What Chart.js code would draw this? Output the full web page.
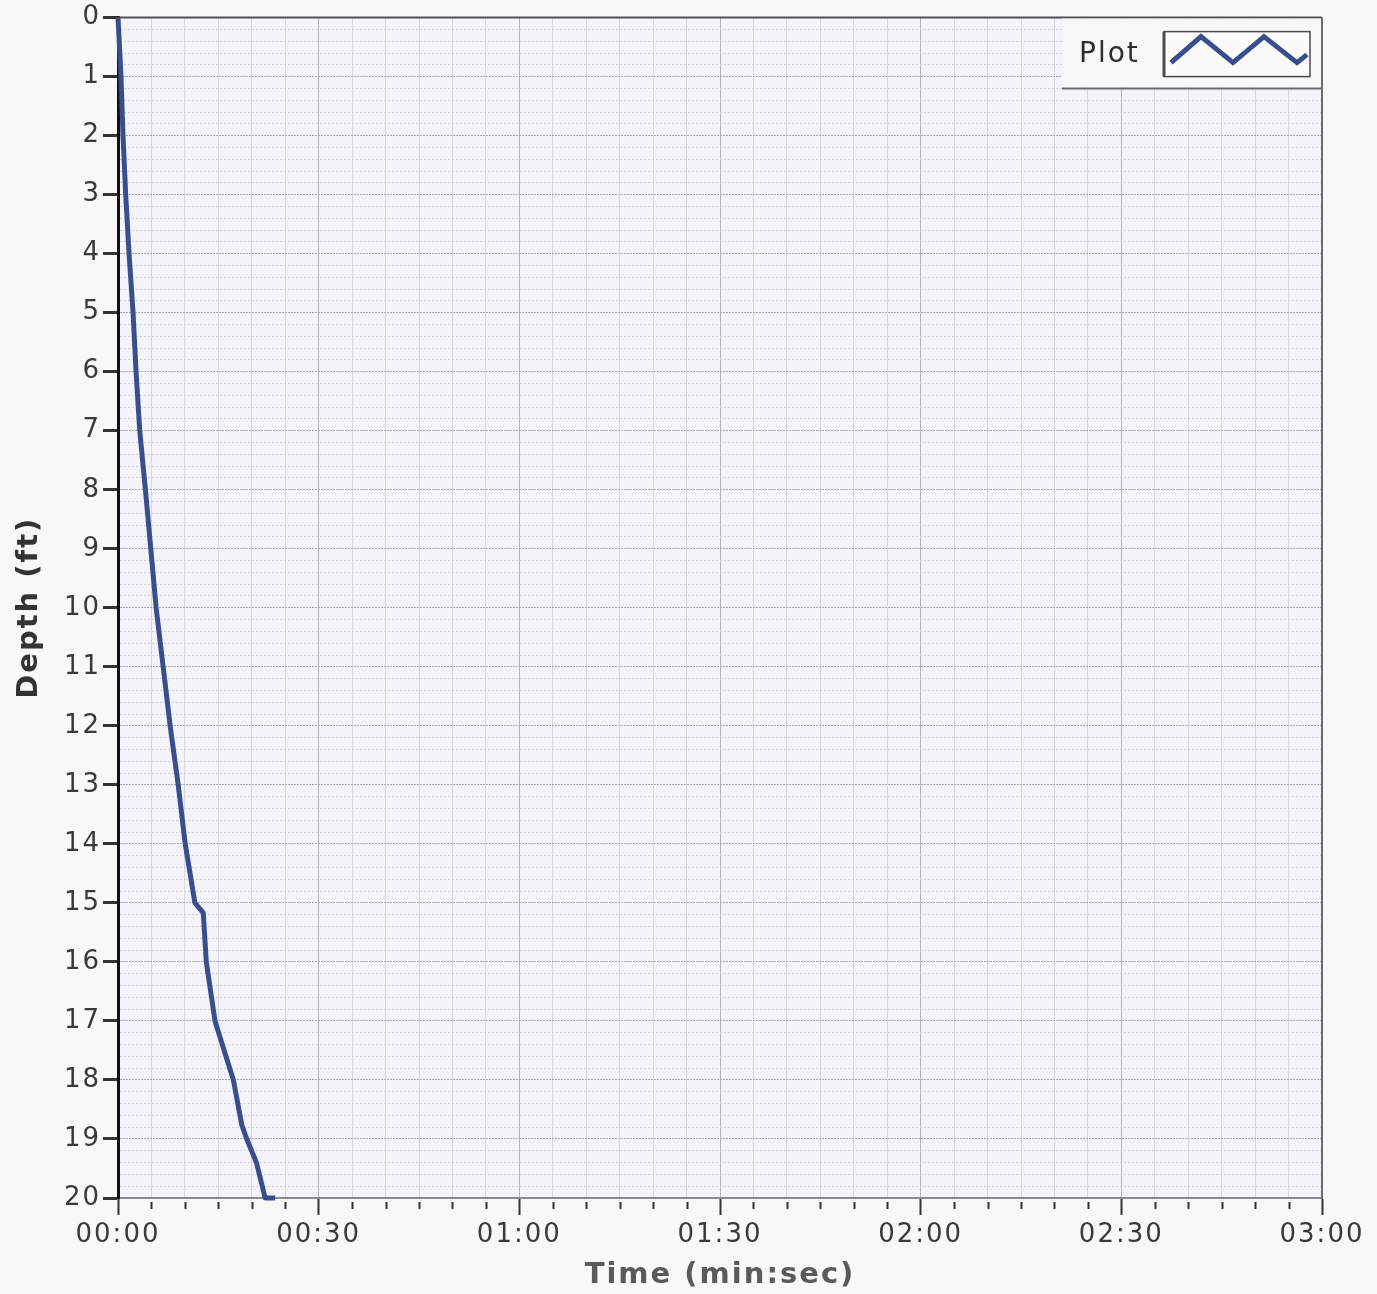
<!DOCTYPE html>
<html>
<head>
<meta charset="utf-8">
<title>Depth vs Time</title>
<script src="https://cdn.jsdelivr.net/npm/chart.js@4/dist/chart.umd.min.js"></script>
<style>
  html, body { margin: 0; padding: 0; background: #f8f8f8; }
  canvas { display: block; }
</style>
</head>
<body>
<canvas id="c" width="1377" height="1294"></canvas>
<script>
// Elapsed time (seconds) and the depth (ft) reached at that time
const timeSec = [0, 0.45, 0.75, 1.15, 1.65, 2.25, 2.7, 3.25, 4.1, 4.9, 5.7, 6.75, 7.8, 9.0, 10.05, 11.5, 12.75, 13.2, 14.5, 16.5, 17.25, 18.5, 19.25, 20.7, 22.0, 23.5];
const depthFt = [0, 1, 2, 3, 4, 5, 6, 7, 8, 9, 10, 11, 12, 13, 14, 15, 15.17, 16, 17, 17.73, 18, 18.76, 19, 19.4, 20, 20];

// Axis ranges and tick spacing
const timeRange = [0, 180];
const timeStep = 5;        // minor tick every 5 s
const timeLabelEvery = 30; // labelled tick every 30 s
const depthRange = [0, 20];
const depthStep = 0.2;     // minor grid every 0.2 ft

const seriesName = 'Plot';

const FONT = 'DejaVu Sans, Verdana, sans-serif';
const SPACING = '2px';
const isWhole = v => Math.abs(v - Math.round(v)) < 1e-6;
const isLabelled = v => isWhole(v / timeLabelEvery);
const mmss = v => {
  const s = Math.round(v);
  const m = Math.floor(s / 60), r = s % 60;
  return String(m).padStart(2, '0') + ':' + String(r).padStart(2, '0');
};

// Wide, Verdana-like letter spacing for all chart text (set before measuring and drawing)
const spacing = {
  id: 'spacing',
  beforeUpdate(chart) { chart.ctx.letterSpacing = SPACING; },
  beforeLayout(chart) { chart.ctx.letterSpacing = SPACING; },
  beforeDraw(chart) { chart.ctx.letterSpacing = SPACING; }
};

// Plot background and frame (top and right edges)
const frame = {
  id: 'frame',
  beforeDraw(chart) {
    const {ctx, chartArea: a} = chart;
    ctx.save();
    ctx.fillStyle = '#f3f3f9';
    ctx.fillRect(a.left, a.top, a.right - a.left, a.bottom - a.top);
    ctx.restore();
  },
  afterDatasetsDraw(chart) {
    const {ctx, chartArea: a} = chart;
    ctx.save();
    ctx.lineWidth = 2;
    ctx.strokeStyle = '#505054';
    ctx.beginPath();
    ctx.moveTo(a.left, a.top);
    ctx.lineTo(a.right, a.top);
    ctx.stroke();
    ctx.strokeStyle = '#6a6a70';
    ctx.beginPath();
    ctx.moveTo(a.right, a.top);
    ctx.lineTo(a.right, a.bottom + 1);
    ctx.stroke();
    ctx.restore();
  }
};

// Short tick marks at the unlabelled 5-second steps
const minorTicks = {
  id: 'minorTicks',
  afterDraw(chart) {
    const {ctx} = chart;
    const x = chart.scales.x;
    ctx.save();
    ctx.strokeStyle = '#333';
    ctx.lineWidth = 2;
    x.ticks.forEach(t => {
      if (isLabelled(t.value)) return;
      const px = Math.round(x.getPixelForValue(t.value)) + 0.5;
      ctx.beginPath();
      ctx.moveTo(px, x.top + 4);
      ctx.lineTo(px, x.top + 11);
      ctx.stroke();
    });
    ctx.restore();
  }
};

// Legend panel in the top-right corner of the plot
const cornerLegend = {
  id: 'cornerLegend',
  afterDraw(chart) {
    const {ctx, chartArea: a} = chart;
    const ds = chart.data.datasets[0];
    const w = 260, h = 70;
    const x0 = a.right - w, y0 = a.top + 1;
    ctx.save();
    ctx.fillStyle = '#f8f8f9';
    ctx.fillRect(x0, y0, w - 1, h - 1);
    ctx.strokeStyle = '#6a6a70';
    ctx.lineWidth = 2;
    ctx.beginPath();
    ctx.moveTo(x0, y0 + h);
    ctx.lineTo(a.right, y0 + h);
    ctx.stroke();

    ctx.fillStyle = '#2e2e2e';
    ctx.font = '28px ' + FONT;
    ctx.textBaseline = 'middle';
    ctx.fillText(ds.label, x0 + 17, y0 + 36);

    const bx = x0 + 102, by = y0 + 13, bw = 146, bh = 45;
    ctx.fillStyle = '#fbfbfc';
    ctx.fillRect(bx, by, bw, bh);
    ctx.lineWidth = 1.5;
    ctx.strokeStyle = '#4a4a4e';
    ctx.strokeRect(bx, by, bw, bh);
    ctx.beginPath();
    ctx.moveTo(bx, by);
    ctx.lineTo(bx, by + bh);
    ctx.lineWidth = 3;
    ctx.stroke();

    ctx.strokeStyle = ds.borderColor;
    ctx.lineWidth = ds.borderWidth;
    ctx.lineJoin = 'miter';
    ctx.beginPath();
    ctx.moveTo(bx + 7, by + 31);
    ctx.lineTo(bx + 37, by + 5);
    ctx.lineTo(bx + 69, by + 31);
    ctx.lineTo(bx + 100, by + 5);
    ctx.lineTo(bx + 133, by + 31);
    ctx.lineTo(bx + 143, by + 23);
    ctx.stroke();
    ctx.restore();
  }
};

new Chart(document.getElementById('c'), {
  type: 'line',
  data: {
    datasets: [{
      label: seriesName,
      data: timeSec.map((t, i) => ({x: t, y: depthFt[i]})),
      borderColor: '#3a4e8e',
      borderWidth: 5,
      pointRadius: 0,
      tension: 0,
      borderJoinStyle: 'round',
      clip: 6
    }]
  },
  options: {
    responsive: false,
    animation: false,
    devicePixelRatio: 1,
    layout: { padding: { top: 16, right: 55, left: 0, bottom: 0 } },
    plugins: { legend: { display: false }, tooltip: { enabled: false } },
    scales: {
      x: {
        type: 'linear',
        min: timeRange[0],
        max: timeRange[1],
        afterFit(s) { s.height = 96; },
        ticks: {
          stepSize: timeStep,
          autoSkip: false,
          maxRotation: 0,
          padding: 5,
          color: '#3a3a3a',
          font: { family: FONT, size: 26 },
          callback: v => isLabelled(v) ? mmss(v) : ''
        },
        grid: {
          color: c => isLabelled(c.tick.value) ? '#b2b3bc' : '#d6d7df',
          lineWidth: 1,
          tickLength: 17,
          tickWidth: 2,
          tickColor: c => isLabelled(c.tick.value) ? '#333' : 'rgba(0,0,0,0)'
        },
        border: { color: '#8a8a90', width: 2 },
        title: {
          display: true,
          text: 'Time (min:sec)',
          color: '#5a5a5a',
          font: { family: FONT, size: 29, weight: 'bold' },
          padding: { top: 0, bottom: 1 }
        }
      },
      y: {
        type: 'linear',
        reverse: true,
        min: depthRange[0],
        max: depthRange[1],
        afterFit(s) { s.width = 118; },
        ticks: {
          stepSize: depthStep,
          autoSkip: false,
          padding: 2,
          color: '#3a3a3a',
          font: { family: FONT, size: 26 },
          callback: v => isWhole(v) ? String(Math.round(v)) : ''
        },
        grid: {
          color: c => isWhole(c.tick.value) ? '#a6a7b0' : '#d0d1da',
          lineWidth: 1,
          tickLength: 15,
          tickWidth: 3,
          tickColor: c => isWhole(c.tick.value) ? '#333' : 'rgba(0,0,0,0)'
        },
        border: {
          color: '#111',
          width: 3,
          dash: c => isWhole(c.tick.value) ? [2, 1] : [2, 2]
        },
        title: {
          display: true,
          text: 'Depth (ft)',
          color: '#333',
          font: { family: FONT, size: 29, weight: 'bold' },
          padding: { top: 12, bottom: 0 }
        }
      }
    }
  },
  plugins: [spacing, frame, minorTicks, cornerLegend]
});
</script>
</body>
</html>
